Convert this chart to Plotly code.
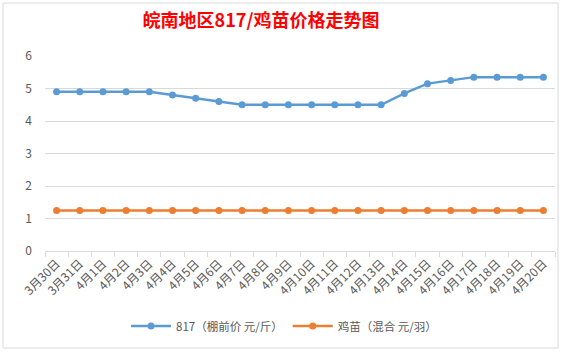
import plotly.graph_objects as go

dates = ["3月30日", "3月31日", "4月1日", "4月2日", "4月3日", "4月4日", "4月5日", "4月6日",
         "4月7日", "4月8日", "4月9日", "4月10日", "4月11日", "4月12日", "4月13日", "4月14日",
         "4月15日", "4月16日", "4月17日", "4月18日", "4月19日", "4月20日"]
price_817 = [4.9, 4.9, 4.9, 4.9, 4.9, 4.8, 4.7, 4.6, 4.5, 4.5, 4.5, 4.5, 4.5, 4.5, 4.5,
             4.85, 5.15, 5.25, 5.35, 5.35, 5.35, 5.35]
price_chick = [1.25] * 22

name_817 = "817（棚前价 元/斤）"
name_chick = "鸡苗（混合 元/羽）"

font_family = "Noto Sans CJK SC, Microsoft YaHei, sans-serif"

fig = go.Figure()
fig.add_trace(go.Scatter(x=dates, y=price_817, mode="lines+markers", name=name_817,
                         line=dict(color="#5B9BD5", width=2.5),
                         marker=dict(color="#5B9BD5", size=7)))
fig.add_trace(go.Scatter(x=dates, y=price_chick, mode="lines+markers", name=name_chick,
                         line=dict(color="#ED7D31", width=2.5),
                         marker=dict(color="#ED7D31", size=7)))

fig.update_layout(
    width=567, height=352,
    margin=dict(l=45, r=12, t=56, b=101),
    paper_bgcolor="white", plot_bgcolor="white",
    font=dict(family=font_family, color="#595959", size=11),
    title=dict(text="<b>皖南地区817/鸡苗价格走势图</b>", xref="paper", x=(261 - 45) / 510,
               xanchor="center", y=1 - 21 / 352, yanchor="middle",
               font=dict(family=font_family, size=18, color="#FF0000")),
    showlegend=True,
    legend=dict(orientation="h", x=(284 - 45) / 510, xanchor="center", y=-0.385,
                yanchor="middle", font=dict(size=11.5, color="#595959"), itemwidth=40),
    xaxis=dict(type="category", range=[-0.5, 21.5], tickangle=-45, showgrid=False,
               tickson="boundaries", ticks="outside", ticklen=5, tickcolor="#d9d9d9",
               showline=True, linecolor="#d9d9d9", linewidth=1,
               tickfont=dict(size=12, color="#595959")),
    yaxis=dict(range=[0, 6], dtick=1, showgrid=True, gridcolor="#d9d9d9", gridwidth=1,
               zeroline=False, showline=False, ticks="", ticklabelstandoff=12,
               tickfont=dict(size=12, color="#595959")),
)

# chart border
pw = 567 - 45 - 12
ph = 352 - 56 - 101
def px(x):
    return (x - 45) / pw
def py(y):
    return (352 - 101 - y) / ph
fig.add_shape(type="rect", xref="paper", yref="paper",
              x0=px(3), x1=px(558), y0=py(348), y1=py(3),
              line=dict(color="#d9d9d9", width=1), fillcolor="rgba(0,0,0,0)", layer="below")

fig.write_html("out.html")
